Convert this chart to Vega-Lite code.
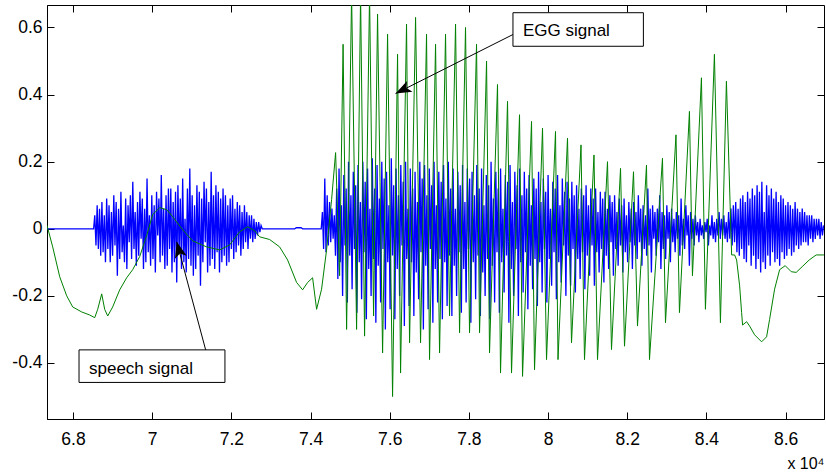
{
"$schema":"https://vega.github.io/schema/vega-lite/v6.json",
"width":777,"height":414,
"autosize":{"type":"none"},
"padding":{"left":47,"top":5,"right":2,"bottom":57},
"background":"white",
"config":{"view":{"stroke":"black","strokeWidth":1},
"axis":{"grid":false,"labelFont":"Liberation Sans","labelFontSize":17.5,"labelColor":"black","tickColor":"black","tickSize":-7,"domainColor":"black","labelFlush":false,"labelOverlap":false,"titleFont":"Liberation Sans","titleFontWeight":"normal","titleColor":"black"}},
"datasets":{
"speech":[
{"x":67343,"y":0},{"x":68520,"y":0},
{"x":68550,"y":0.04},{"x":68580,"y":-0.05},{"x":68610,"y":0.07},{"x":68640,"y":-0.06},{"x":68670,"y":0.06},{"x":68700,"y":-0.08},{"x":68730,"y":0.08},{"x":68760,"y":-0.07},{"x":68790,"y":0.04},{"x":68820,"y":-0.1},
{"x":68850,"y":0.09},{"x":68880,"y":-0.06},{"x":68910,"y":0.07},{"x":68940,"y":-0.1},{"x":68970,"y":0.05},{"x":69000,"y":-0.08},{"x":69030,"y":0.1},{"x":69060,"y":-0.05},{"x":69090,"y":0.08},{"x":69120,"y":-0.14},
{"x":69150,"y":0.06},{"x":69180,"y":-0.09},{"x":69210,"y":0.11},{"x":69240,"y":-0.07},{"x":69270,"y":0.01},{"x":69300,"y":-0.1},{"x":69330,"y":0.09},{"x":69360,"y":-0.12},{"x":69390,"y":0.07},{"x":69420,"y":-0.04},
{"x":69450,"y":0.1},{"x":69480,"y":-0.09},{"x":69510,"y":0.14},{"x":69540,"y":-0.06},{"x":69570,"y":0.05},{"x":69600,"y":-0.11},{"x":69630,"y":0.08},{"x":69660,"y":-0.08},{"x":69690,"y":0.11},{"x":69720,"y":-0.03},
{"x":69750,"y":0.09},{"x":69780,"y":-0.12},{"x":69810,"y":0.06},{"x":69840,"y":-0.1},{"x":69870,"y":0.15},{"x":69900,"y":-0.07},{"x":69930,"y":0.04},{"x":69960,"y":-0.11},{"x":69990,"y":0.1},{"x":70020,"y":-0.09},
{"x":70050,"y":0.07},{"x":70080,"y":-0.13},{"x":70110,"y":0.11},{"x":70140,"y":-0.02},{"x":70170,"y":0.09},{"x":70200,"y":-0.1},{"x":70230,"y":0.16},{"x":70260,"y":-0.08},{"x":70290,"y":0.06},{"x":70320,"y":-0.12},
{"x":70350,"y":0.1},{"x":70380,"y":-0.11},{"x":70410,"y":0.12},{"x":70440,"y":-0.06},{"x":70470,"y":0.12},{"x":70500,"y":-0.13},{"x":70530,"y":0.08},{"x":70560,"y":-0.1},{"x":70590,"y":0.11},{"x":70620,"y":-0.16},
{"x":70650,"y":0.13},{"x":70680,"y":-0.07},{"x":70710,"y":0.09},{"x":70740,"y":-0.12},{"x":70770,"y":0.15},{"x":70800,"y":-0.1},{"x":70830,"y":0.03},{"x":70860,"y":-0.13},{"x":70890,"y":0.12},{"x":70920,"y":-0.09},
{"x":70950,"y":0.18},{"x":70980,"y":-0.11},{"x":71010,"y":0.1},{"x":71040,"y":-0.14},{"x":71070,"y":0.07},{"x":71100,"y":-0.12},{"x":71130,"y":0.13},{"x":71160,"y":-0.08},{"x":71190,"y":0.11},{"x":71220,"y":-0.17},
{"x":71250,"y":0.09},{"x":71280,"y":-0.1},{"x":71310,"y":0.14},{"x":71340,"y":-0.04},{"x":71370,"y":0.12},{"x":71400,"y":-0.13},{"x":71430,"y":0.08},{"x":71460,"y":-0.11},{"x":71490,"y":0.17},{"x":71520,"y":-0.09},
{"x":71550,"y":0.1},{"x":71580,"y":-0.12},{"x":71610,"y":0.13},{"x":71640,"y":-0.07},{"x":71670,"y":0.11},{"x":71700,"y":-0.13},{"x":71730,"y":0.09},{"x":71760,"y":-0.1},{"x":71790,"y":0.12},{"x":71820,"y":-0.08},
{"x":71850,"y":0.1},{"x":71880,"y":-0.11},{"x":71910,"y":0.07},{"x":71940,"y":-0.1},{"x":71970,"y":0.09},{"x":72000,"y":-0.06},{"x":72030,"y":0.1},{"x":72060,"y":-0.09},{"x":72090,"y":0.06},{"x":72120,"y":-0.07},
{"x":72150,"y":0.08},{"x":72180,"y":-0.05},{"x":72210,"y":0.07},{"x":72240,"y":-0.08},{"x":72270,"y":0.05},{"x":72300,"y":-0.06},{"x":72330,"y":0.07},{"x":72360,"y":-0.04},{"x":72390,"y":0.05},{"x":72420,"y":-0.06},
{"x":72450,"y":0.04},{"x":72480,"y":-0.03},{"x":72510,"y":0.04},{"x":72540,"y":-0.04},{"x":72570,"y":0.03},{"x":72600,"y":-0.03},{"x":72630,"y":0.02},{"x":72660,"y":-0.02},{"x":72690,"y":0.02},{"x":72720,"y":-0.01},
{"x":72750,"y":0.01},{"x":72780,"y":0},{"x":73600,"y":0},{"x":73640,"y":0.003},{"x":73760,"y":0.003},{"x":73800,"y":0},{"x":74270,"y":0},
{"x":74300,"y":0.05},{"x":74330,"y":-0.06},{"x":74360,"y":0.15},{"x":74390,"y":-0.07},{"x":74420,"y":0.1},{"x":74450,"y":-0.05},{"x":74480,"y":0.08},{"x":74510,"y":-0.04},{"x":74540,"y":0.06},{"x":74570,"y":-0.03},
{"x":74600,"y":0.04},{"x":74630,"y":-0.08},{"x":74660,"y":0.12},{"x":74690,"y":-0.15},{"x":74720,"y":0.18},{"x":74750,"y":-0.1},{"x":74780,"y":0.07},{"x":74810,"y":-0.2},{"x":74840,"y":0.16},{"x":74870,"y":-0.05},
{"x":74900,"y":0.12},{"x":74930,"y":-0.22},{"x":74960,"y":0.2},{"x":74990,"y":-0.08},{"x":75020,"y":0.1},{"x":75050,"y":-0.18},{"x":75080,"y":0.17},{"x":75110,"y":-0.06},{"x":75140,"y":0.13},{"x":75170,"y":-0.25},
{"x":75200,"y":0.19},{"x":75230,"y":-0.1},{"x":75260,"y":0.08},{"x":75290,"y":-0.21},{"x":75320,"y":0.2},{"x":75350,"y":-0.07},{"x":75380,"y":0.14},{"x":75410,"y":-0.27},{"x":75440,"y":0.18},{"x":75470,"y":-0.12},
{"x":75500,"y":0.06},{"x":75530,"y":-0.2},{"x":75560,"y":0.21},{"x":75590,"y":-0.09},{"x":75620,"y":0.12},{"x":75650,"y":-0.28},{"x":75680,"y":0.19},{"x":75710,"y":-0.11},{"x":75740,"y":0.09},{"x":75770,"y":-0.22},
{"x":75800,"y":0.2},{"x":75830,"y":-0.06},{"x":75860,"y":0.15},{"x":75890,"y":-0.3},{"x":75920,"y":0.17},{"x":75950,"y":-0.1},{"x":75980,"y":0.07},{"x":76010,"y":-0.24},{"x":76040,"y":0.21},{"x":76070,"y":-0.08},
{"x":76100,"y":0.13},{"x":76130,"y":-0.27},{"x":76160,"y":0.18},{"x":76190,"y":-0.12},{"x":76220,"y":0.1},{"x":76250,"y":-0.2},{"x":76280,"y":0.19},{"x":76310,"y":-0.05},{"x":76340,"y":0.14},{"x":76370,"y":-0.29},
{"x":76400,"y":0.2},{"x":76430,"y":-0.09},{"x":76460,"y":0.06},{"x":76490,"y":-0.23},{"x":76520,"y":0.18},{"x":76550,"y":-0.1},{"x":76580,"y":0.12},{"x":76610,"y":-0.26},{"x":76640,"y":0.17},{"x":76670,"y":-0.13},
{"x":76700,"y":0.08},{"x":76730,"y":-0.21},{"x":76760,"y":0.2},{"x":76790,"y":-0.07},{"x":76820,"y":0.15},{"x":76850,"y":-0.3},{"x":76880,"y":0.19},{"x":76910,"y":-0.11},{"x":76940,"y":0.1},{"x":76970,"y":-0.24},
{"x":77000,"y":0.18},{"x":77030,"y":-0.06},{"x":77060,"y":0.13},{"x":77090,"y":-0.28},{"x":77120,"y":0.2},{"x":77150,"y":-0.12},{"x":77180,"y":0.07},{"x":77210,"y":-0.22},{"x":77240,"y":0.17},{"x":77270,"y":-0.09},
{"x":77300,"y":0.14},{"x":77330,"y":-0.27},{"x":77360,"y":0.19},{"x":77390,"y":-0.1},{"x":77420,"y":0.09},{"x":77450,"y":-0.23},{"x":77480,"y":0.2},{"x":77510,"y":-0.08},{"x":77540,"y":0.12},{"x":77570,"y":-0.26},
{"x":77600,"y":0.18},{"x":77630,"y":-0.11},{"x":77660,"y":0.06},{"x":77690,"y":-0.2},{"x":77720,"y":0.17},{"x":77750,"y":-0.07},{"x":77780,"y":0.13},{"x":77810,"y":-0.25},{"x":77840,"y":0.19},{"x":77870,"y":-0.12},
{"x":77900,"y":0.08},{"x":77930,"y":-0.22},{"x":77960,"y":0.18},{"x":77990,"y":-0.06},{"x":78020,"y":0.15},{"x":78050,"y":-0.28},{"x":78080,"y":0.17},{"x":78110,"y":-0.1},{"x":78140,"y":0.1},{"x":78170,"y":-0.21},
{"x":78200,"y":0.19},{"x":78230,"y":-0.08},{"x":78260,"y":0.12},{"x":78290,"y":-0.26},{"x":78320,"y":0.18},{"x":78350,"y":-0.13},{"x":78380,"y":0.07},{"x":78410,"y":-0.2},{"x":78440,"y":0.16},{"x":78470,"y":-0.09},
{"x":78500,"y":0.13},{"x":78530,"y":-0.27},{"x":78560,"y":0.2},{"x":78590,"y":-0.11},{"x":78620,"y":0.09},{"x":78650,"y":-0.22},{"x":78680,"y":0.17},{"x":78710,"y":-0.07},{"x":78740,"y":0.12},{"x":78770,"y":-0.25},
{"x":78800,"y":0.18},{"x":78830,"y":-0.1},{"x":78860,"y":0.06},{"x":78890,"y":-0.19},{"x":78920,"y":0.16},{"x":78950,"y":-0.08},{"x":78980,"y":0.14},{"x":79010,"y":-0.28},{"x":79040,"y":0.19},{"x":79070,"y":-0.12},
{"x":79100,"y":0.08},{"x":79130,"y":-0.2},{"x":79160,"y":0.17},{"x":79190,"y":-0.06},{"x":79220,"y":0.13},{"x":79250,"y":-0.26},{"x":79280,"y":0.18},{"x":79310,"y":-0.1},{"x":79340,"y":0.1},{"x":79370,"y":-0.19},
{"x":79400,"y":0.17},{"x":79430,"y":-0.07},{"x":79460,"y":0.12},{"x":79490,"y":-0.24},{"x":79520,"y":0.16},{"x":79550,"y":-0.11},{"x":79580,"y":0.07},{"x":79610,"y":-0.18},{"x":79640,"y":0.15},{"x":79670,"y":-0.09},
{"x":79700,"y":0.12},{"x":79730,"y":-0.23},{"x":79760,"y":0.17},{"x":79790,"y":-0.1},{"x":79820,"y":0.08},{"x":79850,"y":-0.19},{"x":79880,"y":0.15},{"x":79910,"y":-0.06},{"x":79940,"y":0.11},{"x":79970,"y":-0.22},
{"x":80000,"y":0.16},{"x":80030,"y":-0.09},{"x":80060,"y":0.06},{"x":80090,"y":-0.17},{"x":80120,"y":0.14},{"x":80150,"y":-0.07},{"x":80180,"y":0.12},{"x":80210,"y":-0.21},{"x":80240,"y":0.16},{"x":80270,"y":-0.1},
{"x":80300,"y":0.07},{"x":80330,"y":-0.16},{"x":80360,"y":0.15},{"x":80390,"y":-0.05},{"x":80420,"y":0.11},{"x":80450,"y":-0.2},{"x":80480,"y":0.14},{"x":80510,"y":-0.08},{"x":80540,"y":0.09},{"x":80570,"y":-0.17},
{"x":80600,"y":0.14},{"x":80630,"y":-0.06},{"x":80660,"y":0.1},{"x":80690,"y":-0.19},{"x":80720,"y":0.13},{"x":80750,"y":-0.09},{"x":80780,"y":0.06},{"x":80810,"y":-0.15},{"x":80840,"y":0.12},{"x":80870,"y":-0.07},
{"x":80900,"y":0.1},{"x":80930,"y":-0.18},{"x":80960,"y":0.13},{"x":80990,"y":-0.08},{"x":81020,"y":0.07},{"x":81050,"y":-0.14},{"x":81080,"y":0.12},{"x":81110,"y":-0.05},{"x":81140,"y":0.09},{"x":81170,"y":-0.17},
{"x":81200,"y":0.12},{"x":81230,"y":-0.07},{"x":81260,"y":0.05},{"x":81290,"y":-0.13},{"x":81320,"y":0.11},{"x":81350,"y":-0.06},{"x":81380,"y":0.09},{"x":81410,"y":-0.16},{"x":81440,"y":0.11},{"x":81470,"y":-0.08},
{"x":81500,"y":0.06},{"x":81530,"y":-0.12},{"x":81560,"y":0.1},{"x":81590,"y":-0.04},{"x":81620,"y":0.08},{"x":81650,"y":-0.14},{"x":81680,"y":0.1},{"x":81710,"y":-0.06},{"x":81740,"y":0.05},{"x":81770,"y":-0.11},
{"x":81800,"y":0.09},{"x":81830,"y":-0.05},{"x":81860,"y":0.07},{"x":81890,"y":-0.13},{"x":81920,"y":0.09},{"x":81950,"y":-0.07},{"x":81980,"y":0.04},{"x":82010,"y":-0.1},{"x":82040,"y":0.08},{"x":82070,"y":-0.04},
{"x":82100,"y":0.06},{"x":82130,"y":-0.12},{"x":82160,"y":0.08},{"x":82190,"y":-0.05},{"x":82220,"y":0.05},{"x":82250,"y":-0.09},{"x":82280,"y":0.1},{"x":82310,"y":-0.04},{"x":82340,"y":0.06},{"x":82370,"y":-0.11},
{"x":82400,"y":0.07},{"x":82430,"y":-0.06},{"x":82460,"y":0.04},{"x":82490,"y":-0.08},{"x":82520,"y":0.12},{"x":82550,"y":-0.05},{"x":82580,"y":0.06},{"x":82610,"y":-0.13},{"x":82640,"y":0.07},{"x":82670,"y":-0.03},
{"x":82700,"y":0.05},{"x":82730,"y":-0.08},{"x":82760,"y":0.06},{"x":82790,"y":-0.04},{"x":82820,"y":0.1},{"x":82850,"y":-0.12},{"x":82880,"y":0.05},{"x":82910,"y":-0.06},{"x":82940,"y":0.04},{"x":82970,"y":-0.09},
{"x":83000,"y":0.07},{"x":83030,"y":-0.03},{"x":83060,"y":0.05},{"x":83090,"y":-0.1},{"x":83120,"y":0.06},{"x":83150,"y":-0.04},{"x":83180,"y":0.03},{"x":83210,"y":-0.07},{"x":83240,"y":0.05},{"x":83270,"y":-0.03},
{"x":83300,"y":0.04},{"x":83330,"y":-0.08},{"x":83360,"y":0.09},{"x":83390,"y":-0.05},{"x":83420,"y":0.03},{"x":83450,"y":-0.06},{"x":83480,"y":0.07},{"x":83510,"y":-0.02},{"x":83540,"y":0.04},{"x":83570,"y":-0.11},
{"x":83600,"y":0.05},{"x":83630,"y":-0.03},{"x":83660,"y":0.03},{"x":83690,"y":-0.05},{"x":83720,"y":0.04},{"x":83750,"y":-0.02},{"x":83780,"y":0.02},{"x":83810,"y":-0.04},{"x":83840,"y":0.03},{"x":83870,"y":-0.02},
{"x":83900,"y":0.01},{"x":83930,"y":-0.03},{"x":83960,"y":0.02},{"x":83990,"y":-0.01},{"x":84020,"y":0.03},{"x":84050,"y":-0.05},{"x":84080,"y":0.01},{"x":84110,"y":-0.02},{"x":84140,"y":0.04},{"x":84170,"y":-0.03},
{"x":84200,"y":0.02},{"x":84230,"y":-0.04},{"x":84260,"y":0.03},{"x":84290,"y":-0.02},{"x":84320,"y":0.05},{"x":84350,"y":-0.03},
{"x":84380,"y":0.03},{"x":84410,"y":-0.02},{"x":84440,"y":0.04},{"x":84470,"y":-0.03},{"x":84500,"y":0.02},{"x":84530,"y":-0.04},{"x":84560,"y":0.05},{"x":84590,"y":-0.03},{"x":84620,"y":0.06},{"x":84650,"y":-0.05},
{"x":84680,"y":0.07},{"x":84710,"y":-0.04},{"x":84740,"y":0.08},{"x":84770,"y":-0.07},{"x":84800,"y":0.06},{"x":84830,"y":-0.08},{"x":84860,"y":0.09},{"x":84890,"y":-0.06},{"x":84920,"y":0.1},{"x":84950,"y":-0.09},
{"x":84980,"y":0.08},{"x":85010,"y":-0.1},{"x":85040,"y":0.11},{"x":85070,"y":-0.05},{"x":85100,"y":0.09},{"x":85130,"y":-0.11},{"x":85160,"y":0.12},{"x":85190,"y":-0.08},{"x":85220,"y":0.1},{"x":85250,"y":-0.12},
{"x":85280,"y":0.13},{"x":85310,"y":-0.09},{"x":85340,"y":0.11},{"x":85370,"y":-0.13},{"x":85400,"y":0.14},{"x":85430,"y":-0.1},{"x":85460,"y":0.05},{"x":85490,"y":-0.12},{"x":85520,"y":0.13},{"x":85550,"y":-0.08},
{"x":85580,"y":0.1},{"x":85610,"y":-0.11},{"x":85640,"y":0.12},{"x":85670,"y":-0.07},{"x":85700,"y":0.09},{"x":85730,"y":-0.1},{"x":85760,"y":0.11},{"x":85790,"y":-0.09},{"x":85820,"y":0.08},{"x":85850,"y":-0.11},
{"x":85880,"y":0.1},{"x":85910,"y":-0.07},{"x":85940,"y":0.09},{"x":85970,"y":-0.09},{"x":86000,"y":0.07},{"x":86030,"y":-0.08},{"x":86060,"y":0.08},{"x":86090,"y":-0.06},{"x":86120,"y":0.07},{"x":86150,"y":-0.08},
{"x":86180,"y":0.06},{"x":86210,"y":-0.07},{"x":86240,"y":0.08},{"x":86270,"y":-0.05},{"x":86300,"y":0.06},{"x":86330,"y":-0.06},{"x":86360,"y":0.05},{"x":86390,"y":-0.05},{"x":86420,"y":0.06},{"x":86450,"y":-0.04},
{"x":86480,"y":0.05},{"x":86510,"y":-0.04},{"x":86540,"y":0.04},{"x":86570,"y":-0.05},{"x":86600,"y":0.04},{"x":86630,"y":-0.03},{"x":86660,"y":0.04},{"x":86690,"y":-0.04},{"x":86720,"y":0.03},{"x":86750,"y":-0.03},
{"x":86780,"y":0.03},{"x":86810,"y":-0.02},{"x":86840,"y":0.03},{"x":86870,"y":-0.03},{"x":86900,"y":0.02},{"x":86930,"y":-0.02},{"x":86960,"y":0.01}
],
"egg":[
{"x":67343,"y":0.01},{"x":67487,"y":-0.054},{"x":67664,"y":-0.143},{"x":67841,"y":-0.2},{"x":67992,"y":-0.233},{"x":68220,"y":-0.248},{"x":68422,"y":-0.257},{"x":68548,"y":-0.265},{"x":68624,"y":-0.24},{"x":68725,"y":-0.194},
{"x":68800,"y":-0.24},{"x":68876,"y":-0.26},{"x":69002,"y":-0.233},{"x":69179,"y":-0.182},{"x":69356,"y":-0.146},{"x":69507,"y":-0.122},{"x":69684,"y":-0.083},{"x":69861,"y":-0.02},{"x":70012,"y":0.042},{"x":70189,"y":0.063},
{"x":70366,"y":0.057},{"x":70517,"y":0.036},{"x":70770,"y":-0.003},{"x":71022,"y":-0.036},{"x":71376,"y":-0.054},{"x":71704,"y":-0.063},{"x":71957,"y":-0.048},{"x":72209,"y":-0.009},{"x":72411,"y":0.006},{"x":72588,"y":-0.006},
{"x":72714,"y":-0.024},{"x":72967,"y":-0.032},{"x":73219,"y":-0.054},{"x":73421,"y":-0.093},{"x":73648,"y":-0.16},{"x":73800,"y":-0.182},{"x":73926,"y":-0.16},{"x":74052,"y":-0.146},{"x":74153,"y":-0.24},{"x":74279,"y":-0.18},
{"x":74405,"y":-0.063},{"x":74532,"y":0.087},{"x":74633,"y":0.227},{"x":74734,"y":-0.14},{"x":74822,"y":0.55},{"x":74911,"y":-0.3},{"x":75037,"y":0.7},{"x":75163,"y":-0.3},{"x":75264,"y":0.7},{"x":75365,"y":-0.32},
{"x":75491,"y":0.7},{"x":75592,"y":-0.26},{"x":75693,"y":0.64},{"x":75820,"y":-0.37},{"x":75946,"y":0.58},{"x":76072,"y":-0.5},{"x":76198,"y":0.52},{"x":76274,"y":-0.43},{"x":76425,"y":0.61},{"x":76501,"y":-0.34},
{"x":76653,"y":0.63},{"x":76779,"y":-0.34},{"x":76930,"y":0.58},{"x":77006,"y":-0.39},{"x":77158,"y":0.55},{"x":77259,"y":-0.37},{"x":77410,"y":0.58},{"x":77511,"y":-0.26},{"x":77663,"y":0.61},{"x":77764,"y":-0.31},
{"x":77915,"y":0.6},{"x":78016,"y":-0.31},{"x":78193,"y":0.55},{"x":78269,"y":-0.31},{"x":78446,"y":0.5},{"x":78521,"y":-0.37},{"x":78723,"y":0.43},{"x":78799,"y":-0.43},{"x":78976,"y":0.38},{"x":79077,"y":-0.43},
{"x":79279,"y":0.34},{"x":79355,"y":-0.44},{"x":79582,"y":0.32},{"x":79658,"y":-0.42},{"x":79860,"y":0.3},{"x":79961,"y":-0.39},{"x":80188,"y":0.29},{"x":80251,"y":-0.39},{"x":80491,"y":0.27},{"x":80592,"y":-0.34},
{"x":80832,"y":0.25},{"x":80920,"y":-0.39},{"x":81160,"y":0.22},{"x":81249,"y":-0.39},{"x":81501,"y":0.2},{"x":81602,"y":-0.36},{"x":81830,"y":0.18},{"x":81931,"y":-0.35},{"x":82158,"y":0.17},{"x":82259,"y":-0.29},
{"x":82486,"y":0.19},{"x":82562,"y":-0.39},{"x":82890,"y":0.21},{"x":82966,"y":-0.28},{"x":83231,"y":0.28},{"x":83319,"y":-0.25},{"x":83571,"y":0.35},{"x":83647,"y":-0.14},{"x":83874,"y":0.45},{"x":83975,"y":-0.24},
{"x":84202,"y":0.52},{"x":84354,"y":-0.28},{"x":84505,"y":0.44},{"x":84637,"y":-0.078},{"x":84712,"y":-0.078},{"x":84763,"y":-0.093},{"x":84839,"y":-0.17},{"x":84889,"y":-0.25},{"x":84914,"y":-0.287},{"x":85015,"y":-0.277},
{"x":85091,"y":-0.29},{"x":85217,"y":-0.316},{"x":85394,"y":-0.337},{"x":85520,"y":-0.322},{"x":85596,"y":-0.27},{"x":85722,"y":-0.18},{"x":85849,"y":-0.122},{"x":85990,"y":-0.11},{"x":86142,"y":-0.128},{"x":86268,"y":-0.13},
{"x":86419,"y":-0.113},{"x":86596,"y":-0.093},{"x":86773,"y":-0.078},{"x":86968,"y":-0.078}
],
"boxes":[{"x":79113,"x2":82408,"y":0.644,"y2":0.544},{"x":68152,"x2":71838,"y":-0.361,"y2":-0.458}],
"arrows":[{"x":79113,"y":0.579,"x2":76148,"y2":0.403},{"x":71351,"y":-0.361,"x2":70620,"y2":-0.039}],
"heads":[{"x":76148,"y":0.403,"angle":243},{"x":70620,"y":-0.039,"angle":345}],
"notes":[{"x":79365,"y":0.574,"label":"EGG signal"},{"x":68404,"y":-0.433,"label":"speech signal"}]
},
"layer":[
{"data":{"name":"speech"},"mark":{"type":"line","color":"#0000ff","strokeWidth":1.3,"clip":true},
"encoding":{
"x":{"field":"x","type":"quantitative","scale":{"domain":[67343,86970],"nice":false,"zero":false},
"axis":{"orient":"bottom","values":[68000,70000,72000,74000,76000,78000,80000,82000,84000,86000],"labelExpr":"'' + datum.value/10000","labelPadding":18,"title":"x 10⁴","titleFontSize":16,"titleAnchor":"end","titlePadding":8}},
"y":{"field":"y","type":"quantitative","scale":{"domain":[-0.567,0.667],"nice":false,"zero":false},
"axis":{"orient":"left","values":[-0.4,-0.2,0,0.2,0.4,0.6],"labelExpr":"'' + datum.value","labelPadding":12,"title":null}}}},
{"data":{"name":"egg"},"mark":{"type":"line","color":"#008000","strokeWidth":1,"clip":true},
"encoding":{
"x":{"field":"x","type":"quantitative","scale":{"domain":[67343,86970],"nice":false,"zero":false},"axis":null},
"y":{"field":"y","type":"quantitative","scale":{"domain":[-0.567,0.667],"nice":false,"zero":false},"axis":null}}},
{"data":{"name":"boxes"},"mark":{"type":"rect","fill":"white","stroke":"black","strokeWidth":1},
"encoding":{
"x":{"field":"x","type":"quantitative","scale":{"domain":[67343,86970],"nice":false,"zero":false},
"axis":{"orient":"top","values":[68000,70000,72000,74000,76000,78000,80000,82000,84000,86000],"labels":false,"domain":false,"title":null}},
"x2":{"field":"x2"},
"y":{"field":"y","type":"quantitative","scale":{"domain":[-0.567,0.667],"nice":false,"zero":false},
"axis":{"orient":"right","values":[-0.4,-0.2,0,0.2,0.4,0.6],"labels":false,"domain":false,"title":null}},
"y2":{"field":"y2"}}},
{"data":{"name":"arrows"},"mark":{"type":"rule","color":"black","strokeWidth":1},
"encoding":{
"x":{"field":"x","type":"quantitative","axis":null},"x2":{"field":"x2"},
"y":{"field":"y","type":"quantitative","axis":null},"y2":{"field":"y2"}}},
{"data":{"name":"heads"},"mark":{"type":"point","shape":"M0,0L-0.65,1.7L0,1.3L0.65,1.7Z","filled":true,"color":"black","opacity":1,"size":350,"strokeWidth":0},
"encoding":{
"x":{"field":"x","type":"quantitative","axis":null},
"y":{"field":"y","type":"quantitative","axis":null},
"angle":{"field":"angle","type":"quantitative","scale":null}}},
{"data":{"name":"notes"},"mark":{"type":"text","align":"left","baseline":"alphabetic","font":"Liberation Sans","fontSize":17,"color":"black"},
"encoding":{
"x":{"field":"x","type":"quantitative","axis":null},
"y":{"field":"y","type":"quantitative","axis":null},
"text":{"field":"label"}}}
],
"resolve":{"axis":{"x":"independent","y":"independent"}}
}
